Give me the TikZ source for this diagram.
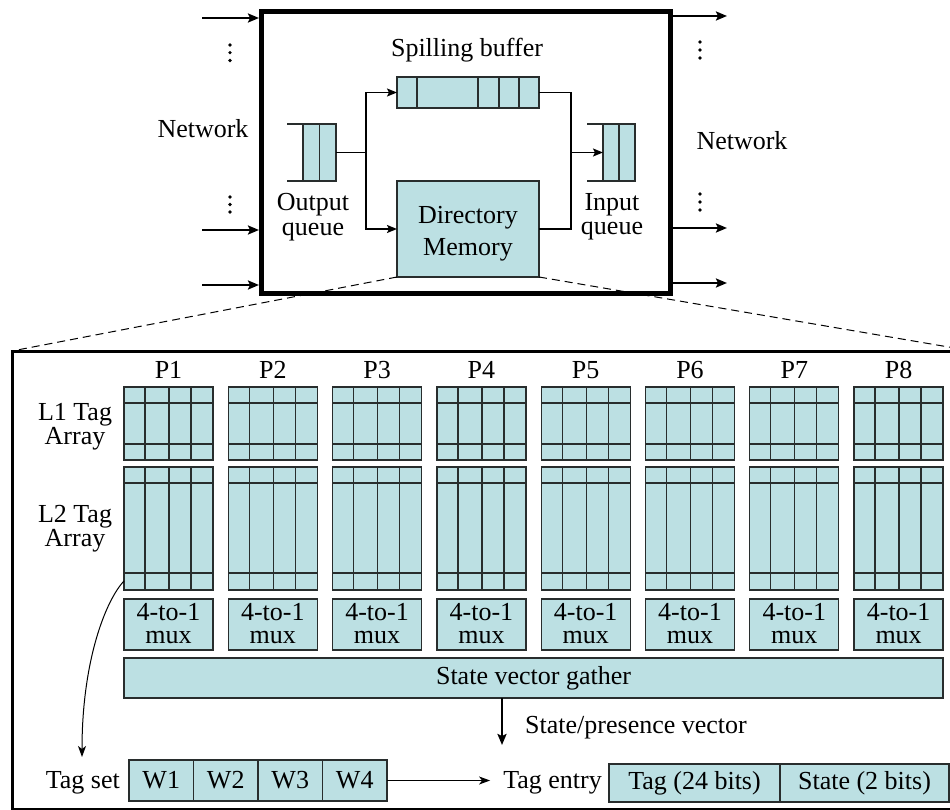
\documentclass[tikz,border=0pt]{standalone}
\usepackage{fontspec}
\setmainfont{Liberation Serif}
\usetikzlibrary{arrows.meta,calc}

\definecolor{cellfill}{RGB}{188,224,227}
\definecolor{celledge}{RGB}{40,45,45}

\begin{document}
\begin{tikzpicture}[x=1pt,y=-1pt,
  txt/.style={font=\fontsize{26}{22}\selectfont, inner sep=0pt, align=center},
  cellbox/.style={draw=celledge, fill=cellfill, line width=1.3pt, inner sep=0pt, outer sep=0pt},
  gridline/.style={draw=celledge, line width=1.3pt},
  wire/.style={line width=1.6pt},
  wirearrow/.style={wire, -{Stealth[length=10pt,width=8pt,inset=2pt]}},
  netarrow/.style={line width=2.2pt, -{Stealth[length=11pt,width=9pt,inset=2pt]}},
  thinarrow/.style={line width=1pt, -{Stealth[length=11pt,width=8pt,inset=3pt]}},
  zoomline/.style={line width=1pt, dash pattern=on 8pt off 5pt},
  vdot/.style={fill=black, draw=none},
]
\useasboundingbox (0,0) rectangle (950,810);

% ---------------- directory controller ----------------
\node[draw, line width=5pt, inner sep=0pt, anchor=north west,
      minimum width=409pt, minimum height=282pt] (hub) at (259,9) {};

% network ports
\coordinate (in1) at (202,18);
\coordinate (in2) at (202,230);
\coordinate (in3) at (202,285);
\coordinate (out1) at (727,16);
\coordinate (out2) at (727,228);
\coordinate (out3) at (727,283);
\foreach \c in {in1,in2,in3} \draw[netarrow] (\c) -- (\c -| hub.west);
\foreach \c in {out1,out2,out3} \draw[netarrow] (\c -| hub.east) -- (\c);

% vertical ellipses between the ports
\foreach \px/\py in {230/45,230/52.7,230/60.5,230/197,230/204.5,230/212,
                     700/42,700/50,700/58,700/194,700/202,700/210}
  \fill[vdot] (\px,\py) circle (1.8pt);

\node[txt, anchor=base] (netin) at (203,138) {Network};
\node[txt, anchor=base] (netout) at (742,150) {Network};

% spilling buffer
\node[txt, anchor=base] (spilllabel) at (467,57) {Spilling buffer};
\node[cellbox, anchor=north west, minimum width=142pt, minimum height=31pt] (spill) at (397,77) {};
\foreach \d in {20,81,102,122}
  \draw[gridline] ($(spill.north west)+(\d,0)$) -- ($(spill.south west)+(\d,0)$);

% output queue
\node[cellbox, anchor=north west, minimum width=33pt, minimum height=57pt] (oq) at (303,124) {};
\draw[gridline] ($(oq.north west)+(16.5,0)$) -- ($(oq.south west)+(16.5,0)$);
\draw[gridline] (oq.north west) -- ++(-16,0);
\draw[gridline] (oq.south west) -- ++(-16,0);
\node[txt, font=\fontsize{26}{24.5}\selectfont] (oqlabel) at (313,217) {Output\\queue};

% input queue
\node[cellbox, anchor=north west, minimum width=32pt, minimum height=57pt] (iq) at (603,124) {};
\draw[gridline] ($(iq.north west)+(16,0)$) -- ($(iq.south west)+(16,0)$);
\draw[gridline] (iq.north west) -- ++(-16,0);
\draw[gridline] (iq.south west) -- ++(-16,0);
\node[txt, font=\fontsize{26}{24.5}\selectfont] (iqlabel) at (612,217) {Input\\queue};

% directory memory
\node[cellbox, anchor=north west, minimum width=142pt, minimum height=96pt] (dm) at (397,181) {};
\node[txt, font=\fontsize{26}{32}\selectfont] (dmlabel) at ($(dm.center)+(0,5)$) {Directory\\Memory};

% internal wiring
\coordinate (split) at ($(oq.east)+(30,0)$);
\draw[wire] (oq.east) -- (split);
\draw[wirearrow] (split) |- (spill.west);
\draw[wirearrow] (split) |- (dm.west);
\coordinate (merge) at ($(iq.west)+(-32,0)$);
\draw[wire] (spill.east) -| (merge);
\draw[wire] (dm.east) -| (merge);
\draw[wirearrow] (merge) -- (iq.west);

% ---------------- directory memory detail ----------------
\node[draw, line width=3pt, inner sep=0pt, outer sep=0pt, anchor=north west,
      minimum width=960pt, minimum height=458pt] (panel) at (12,351) {};
\draw[zoomline] (dm.south west) -- (panel.north west);
\draw[zoomline] (dm.south east) -- (panel.north east);

\node[txt, font=\fontsize{26}{24}\selectfont] (l1label) at (75,427) {L1 Tag\\Array};
\node[txt, font=\fontsize{26}{24}\selectfont] (l2label) at (75,529) {L2 Tag\\Array};

\foreach \i in {0,...,7} {
  \pgfmathsetmacro\cx{124+104.3*\i}
  \pgfmathtruncatemacro\pn{\i+1}
  \node[txt, anchor=base] (p-\i) at (\cx+44.5,378) {P\pn};
  % L1 tag array
  \node[cellbox, anchor=north west, minimum width=89pt, minimum height=73pt] (l1-\i) at (\cx,387) {};
  \foreach \h in {16,57}
    \draw[gridline] ($(l1-\i.north west)+(0,\h)$) -- ($(l1-\i.north east)+(0,\h)$);
  \foreach \v in {21,45,67}
    \draw[gridline] ($(l1-\i.north west)+(\v,0)$) -- ($(l1-\i.south west)+(\v,0)$);
  % L2 tag array
  \node[cellbox, anchor=north west, minimum width=89pt, minimum height=123pt] (l2-\i) at (\cx,467) {};
  \foreach \h in {16,106}
    \draw[gridline] ($(l2-\i.north west)+(0,\h)$) -- ($(l2-\i.north east)+(0,\h)$);
  \foreach \v in {21,45,67}
    \draw[gridline] ($(l2-\i.north west)+(\v,0)$) -- ($(l2-\i.south west)+(\v,0)$);
  % way selector
  \node[cellbox, anchor=north west, minimum width=89pt, minimum height=51pt] (mux-\i) at (\cx,599) {};
  \node[txt, font=\fontsize{26}{23.5}\selectfont] (muxlabel-\i) at ($(mux-\i.center)+(0,-1)$) {4-to-1\\mux};
}

\node[cellbox, txt, anchor=north west, minimum width=819pt, minimum height=40pt]
  (svg) at (124,658) {State vector gather};

\coordinate (spv) at (502,745);
\draw[netarrow] (spv |- svg.south) -- (spv);
\node[txt, anchor=base west] (spvlabel) at (525,733) {State/presence vector};

% tag set
\node[txt, anchor=base east] (tslabel) at (120,788) {Tag set};
\foreach \k/\wx in {1/129,2/193.5,3/258,4/322.5}
  \node[cellbox, txt, line width=1.7pt, anchor=north west, minimum width=64.5pt,
        minimum height=41pt] (w\k) at (\wx,760) {W\k};

\coordinate (tsin) at (82,757);
\draw[line width=1pt, -{Stealth[length=11pt,width=8pt,inset=3pt]}]
  ($(l2-0.south west)+(0,-9)$) .. controls (106,600) and (82,660) .. (tsin);

% tag entry
\node[txt, anchor=base east] (telabel) at (602,788) {Tag entry};
\draw[thinarrow, shorten >=13pt] (w4.east) -- (w4.east -| telabel.west);
\node[cellbox, txt, line width=1.7pt, anchor=north west, minimum width=171pt,
      minimum height=38pt] (tagf) at (609,764) {Tag (24 bits)};
\node[cellbox, txt, line width=1.7pt, anchor=north west, minimum width=169pt,
      minimum height=38pt] (statef) at (780,764) {State (2 bits)};
\end{tikzpicture}
\end{document}
